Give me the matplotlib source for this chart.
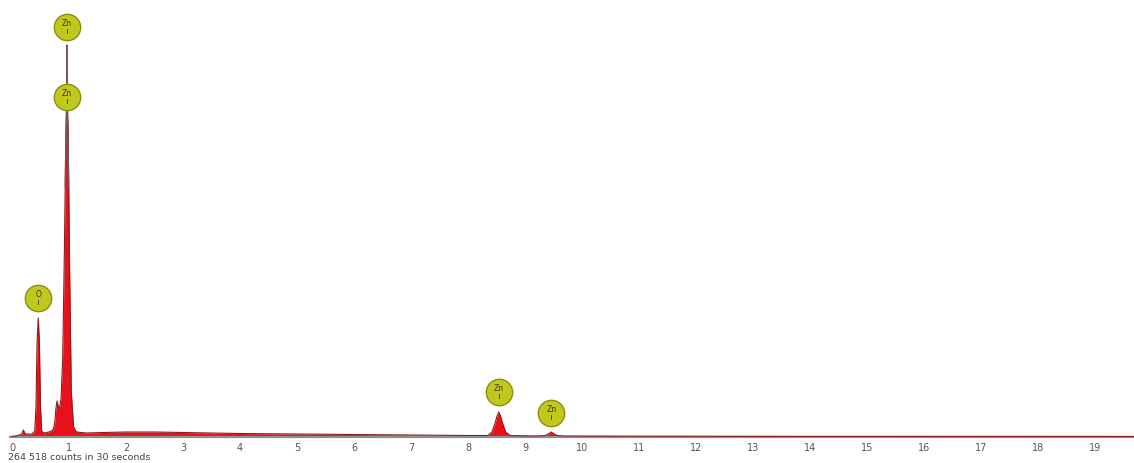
import matplotlib
matplotlib.use("Agg")
import matplotlib.pyplot as plt

# spectrum (energy in keV, counts in screen units)
energy = [0.0, 0.10, 0.17, 0.20, 0.23, 0.35, 0.40, 0.42, 0.44, 0.46, 0.48,
          0.50, 0.52, 0.56, 0.65, 0.72, 0.75, 0.77, 0.79, 0.81, 0.83, 0.86,
          0.89, 0.92, 0.945, 0.965, 0.985, 1.01, 1.04, 1.08, 1.13, 1.3, 1.6,
          2.0, 2.5, 3.0, 4.0, 5.0, 6.0, 7.0, 8.0, 8.35, 8.42, 8.47, 8.51,
          8.54, 8.57, 8.61, 8.66, 8.74, 9.2, 9.36, 9.42, 9.46, 9.50, 9.56,
          9.7, 11.0, 14.0, 19.7]
counts = [0.5, 1.5, 3, 7, 3, 3, 6, 30, 95, 119, 95, 30, 6, 4, 5, 7, 14, 28,
          36, 31, 28, 38, 80, 190, 305, 337, 305, 170, 45, 10, 5, 4, 4.5,
          5, 5, 4.5, 3.5, 3, 2.5, 2, 1.5, 1.5, 5, 13, 21, 25, 21, 13, 5, 1.5,
          1, 1.5, 3.5, 5, 3.5, 1.5, 1, 0.8, 0.6, 0.5]

# taller overlay spike on the Zn L line
overlay_energy = [0.935, 0.955, 0.965, 0.975, 0.995]
overlay_counts = [250, 330, 392, 330, 250]

# element markers
label_names = ["Zn", "Zn", "O", "Zn", "Zn"]
label_x = [0.965, 0.965, 0.46, 8.54, 9.46]
label_y = [410, 340, 139, 45, 24]

ticks = list(range(0, 20))
footer = "264 518 counts in 30 seconds"

fig = plt.figure(figsize=(11.34, 4.63), dpi=100)
ax = fig.add_axes([10 / 1134, 26 / 463, 1 - 10 / 1134, 1 - 26 / 463])
ax.set_xlim(-2 / 57, (1134 - 12) / 57)
ax.set_ylim(0, 437)

ax.fill_between(energy, counts, 0, color="#e8111a", lw=0, zorder=2)
ax.plot(energy, counts, color="#8c1c1c", lw=0.8, zorder=3)
ax.plot(overlay_energy, overlay_counts, color="#6e5a5a", lw=1.0, zorder=3)

for name, lx, ly in zip(label_names, label_x, label_y):
    ax.plot(lx, ly, "o", ms=19, markerfacecolor="#c0c81e",
            markeredgecolor="#8a8f14", markeredgewidth=1.0, zorder=5,
            clip_on=False)
    ax.annotate(name, (lx, ly), xytext=(0, 2.5), textcoords="offset points",
                ha="center", va="center", fontsize=5.5, color="#3a3a10",
                zorder=6)
    ax.plot([lx, lx], [ly - 6, ly - 1.5], color="#3a3a10", lw=0.6, zorder=6)

for s in ["top", "right", "left"]:
    ax.spines[s].set_visible(False)
ax.spines["bottom"].set_color("#8f8f8f")
ax.spines["bottom"].set_linewidth(1.6)
ax.set_yticks([])
ax.set_xticks(ticks)
ax.set_xticklabels([str(t) for t in ticks])
ax.tick_params(axis="x", length=0, pad=4, labelsize=7, labelcolor="#555555")

fig.text(8 / 1134, 1 - 458 / 463, footer, fontsize=6.8, color="#444444",
         ha="left", va="center")

fig.savefig("out.png", dpi=100)
